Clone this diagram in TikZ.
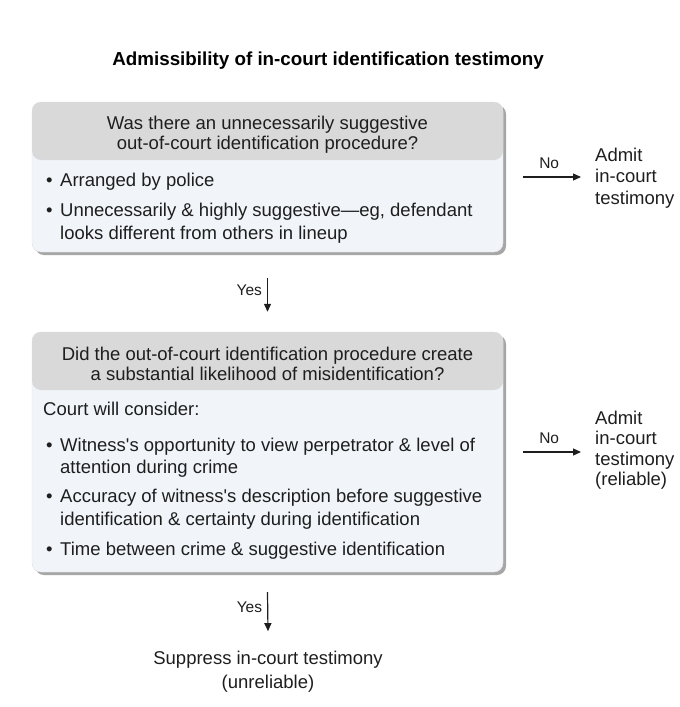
\documentclass[tikz,border=0pt]{standalone}
\usepackage{fontspec}
\setmainfont{Liberation Sans}[Ligatures=TeXOff]
\usetikzlibrary{shadows,arrows.meta}
\definecolor{hdr}{HTML}{D9D9D9}
\definecolor{bodyc}{HTML}{F1F5F9}
\definecolor{txt}{HTML}{1E1E1E}
\newcommand{\bul}{\makebox[14pt][l]{•}}
\newcommand{\hang}{\hspace*{14pt}}
\begin{document}
\begin{tikzpicture}[x=1pt,y=-1pt,
  box/.style={rectangle, rounded corners=9pt, minimum width=471pt, inner sep=0pt,
    fill=bodyc, draw=black!12, line width=0.4pt,
    drop shadow={shadow xshift=3pt,shadow yshift=-3pt,fill=black,opacity=0.35}},
  hdrfill/.style={path picture={\fill[hdr] (path picture bounding box.north west) rectangle ([yshift=-#1]path picture bounding box.north east);}},
  hdrtext/.style={font=\fontsize{18.5}{20}\selectfont, text=txt, align=center, inner sep=0pt},
  bodytext/.style={font=\fontsize{18.5}{22.5}\selectfont, text=txt, align=left, inner sep=0pt, anchor=west},
  outtext/.style={font=\fontsize{18.5}{21.5}\selectfont, text=txt, align=left, inner sep=0pt, inner xsep=14pt, anchor=west},
  lbl/.style={font=\fontsize{15.5}{18}\selectfont, text=txt, inner sep=0pt},
  arr/.style={draw=txt, line width=1.2pt, -{Triangle[length=8pt,width=7pt]}}]
\useasboundingbox (0,0) rectangle (680,707);

\node[font=\bfseries\fontsize{18.8}{22}\selectfont, text=black, inner sep=0pt] (title) at (328,61) {Admissibility of in-court identification testimony};

% Box 1
\node[box, minimum height=150pt, hdrfill=58pt] (box1) at (267.5,177) {};
\node[hdrtext] (q1) at (267.5,134.5) {Was there an unnecessarily suggestive\\out-of-court identification procedure?};
\node[bodytext] (b11) at (46,182) {\bul Arranged by police};
\node[bodytext, font=\fontsize{18.5}{23}\selectfont] (b12) at (46,223) {\bul Unnecessarily \& highly suggestive—eg, defendant\\\hang looks different from others in lineup};

% Box 2
\node[box, minimum height=240pt, hdrfill=58pt] (box2) at (267.5,452) {};
\node[hdrtext] (q2) at (267.5,363.5) {Did the out-of-court identification procedure create\\a substantial likelihood of misidentification?};
\node[bodytext] (c2) at (43,409) {Court will consider:};
\node[bodytext] (b21) at (46,457.5) {\bul Witness's opportunity to view perpetrator \& level of\\\hang attention during crime};
\node[bodytext] (b22) at (46,509) {\bul Accuracy of witness's description before suggestive\\\hang identification \& certainty during identification};
\node[bodytext] (b23) at (46,551) {\bul Time between crime \& suggestive identification};

% Outcomes
\node[outtext] (admit1) at (581,178) {Admit\\in-court\\testimony};
\node[outtext, font=\fontsize{18.5}{20.5}\selectfont] (admit2) at (581,450) {Admit\\in-court\\testimony\\(reliable)};
\node[font=\fontsize{18.5}{24}\selectfont, text=txt, align=center, inner sep=0pt] (supp) at (268,672) {Suppress in-court testimony\\(unreliable)};

% Connectors
\draw[arr] ([yshift=-26pt]box1.south) -- ([yshift=20pt]box2.north)
  node[lbl, pos=0.35, anchor=east, xshift=-5pt] {Yes};
\draw[arr] ([yshift=-20pt]box2.south) -- ([yshift=20pt]supp.north)
  node[lbl, pos=0.39, anchor=east, xshift=-5pt] {Yes};
\draw[arr] ([xshift=20pt]box1.east) -- (box1.east -| admit1.west)
  node[lbl, pos=0.45, anchor=south, yshift=8pt] {No};
\draw[arr] ([xshift=20pt]box2.east) -- (box2.east -| admit2.west)
  node[lbl, pos=0.45, anchor=south, yshift=8pt] {No};
\end{tikzpicture}
\end{document}
